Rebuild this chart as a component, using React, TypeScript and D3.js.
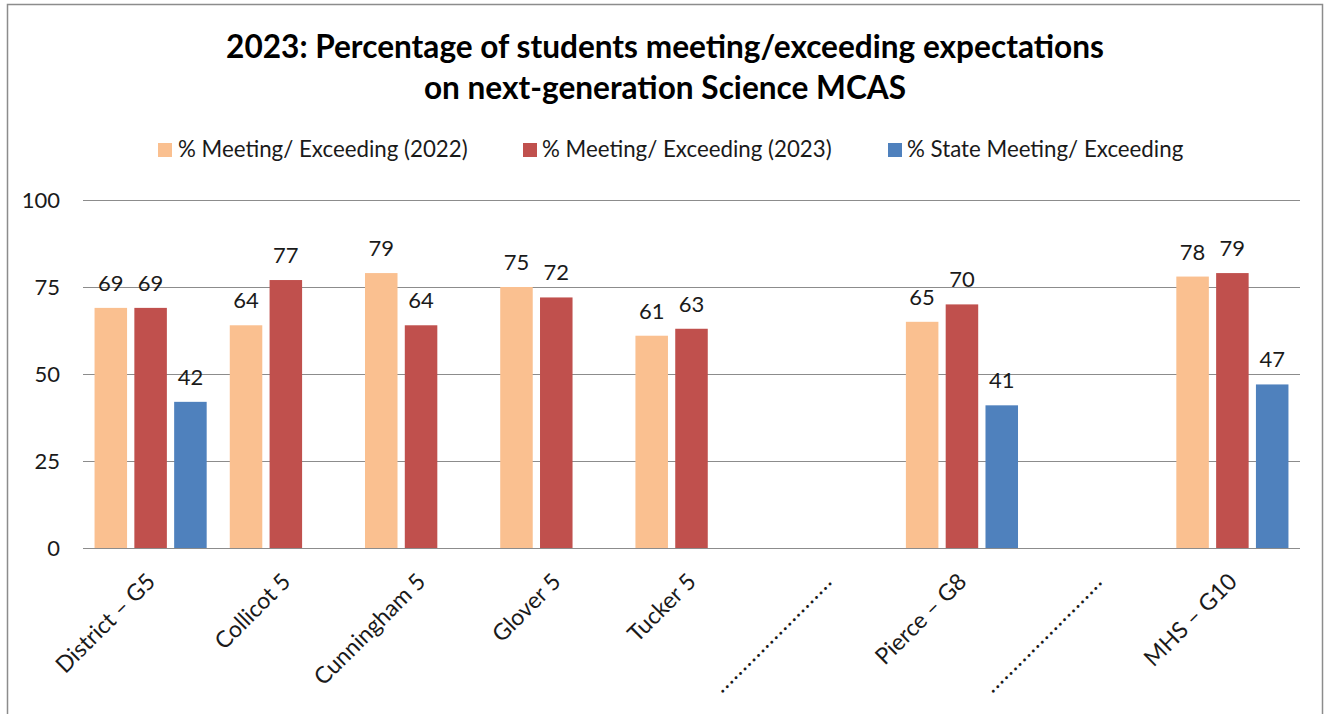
import React from "react";
import * as d3 from "d3";

const categories = [
  "District – G5",
  "Collicot 5",
  "Cunningham 5",
  "Glover 5",
  "Tucker 5",
  ".........................",
  "Pierce – G8",
  ".........................",
  "MHS – G10",
];
const series = [
  "% Meeting/ Exceeding (2022)",
  "% Meeting/ Exceeding (2023)",
  "% State Meeting/ Exceeding",
];
const values2022: (number | null)[] = [69, 64, 79, 75, 61, null, 65, null, 78];
const values2023: (number | null)[] = [69, 77, 64, 72, 63, null, 70, null, 79];
const valuesState: (number | null)[] = [42, null, null, null, null, null, 41, null, 47];
const yTicks = [0, 25, 50, 75, 100];
const titleLines = [
  "2023: Percentage of students meeting/exceeding expectations",
  "on next-generation Science MCAS",
];
const colors = ["#FAC090", "#C0504D", "#4F81BD"];

const W = 1328;
const H = 714;
const FONT = "Lato, 'Open Sans', sans-serif";

export default function App() {
  const seriesValues = [values2022, values2023, valuesState];
  const x = d3.scaleBand<number>().domain(categories.map((_, i) => i)).range([83, 1300]).padding(0);
  const xi = d3
    .scaleBand<number>()
    .domain([0, 1, 2])
    .range([0, x.bandwidth()])
    .paddingInner(0.183)
    .paddingOuter(0.29);
  const y = d3.scaleLinear().domain([0, 100]).range([548, 200]);

  const legendPos = [
    { sq: 158, tx: 178 },
    { sq: 523, tx: 542 },
    { sq: 888, tx: 907 },
  ];

  return (
    <svg
      width={W}
      height={H}
      style={{ position: "absolute", left: 0, top: 0, background: "#fff" }}
      fontFamily={FONT}
    >
      <rect x={0} y={0} width={W} height={H} fill="#fff" />
      <rect x={7.5} y={4.5} width={1315} height={740} fill="none" stroke="#8c8c8c" strokeWidth={1.5} />

      {titleLines.map((t, i) => (
        <text
          key={i}
          x={665}
          y={58 + i * 41}
          textAnchor="middle"
          fontSize={31.6}
          fontWeight="bold"
          fill="#000"
        >
          {t}
        </text>
      ))}

      {series.map((s, i) => (
        <g key={s}>
          <rect x={legendPos[i].sq} y={143} width={14} height={14} fill={colors[i]} />
          <text x={legendPos[i].tx} y={157} fontSize={22.3} fill="#1a1a1a">
            {s}
          </text>
        </g>
      ))}

      {yTicks.map((t) => (
        <g key={t}>
          <line x1={83} x2={1300} y1={Math.round(y(t)) + 0.5} y2={Math.round(y(t)) + 0.5} stroke="#8c8c8c" strokeWidth={1.2} />
          <text x={60} y={y(t)} dy="0.35em" textAnchor="end" fontSize={22} fill="#1a1a1a">
            {t}
          </text>
        </g>
      ))}

      {categories.map((c, ci) =>
        seriesValues.map((vals, si) => {
          const v = vals[ci];
          if (v == null) return null;
          const bx = (x(ci) as number) + (xi(si) as number);
          return (
            <g key={`${ci}-${si}`}>
              <rect x={bx} y={y(v)} width={xi.bandwidth()} height={y(0) - y(v)} fill={colors[si]} />
              <text x={bx + xi.bandwidth() / 2} y={y(v) - 17} textAnchor="middle" fontSize={22} fill="#1a1a1a">
                {v}
              </text>
            </g>
          );
        })
      )}

      {categories.map((c, ci) => {
        const cx = (x(ci) as number) + x.bandwidth() / 2;
        const ax = cx + 6;
        const ay = 583;
        const isDots = c.startsWith(".");
        return (
          <text
            key={ci}
            transform={`translate(${ax},${ay}) rotate(-45)`}
            textAnchor="end"
            fontSize={23}
            fill="#1a1a1a"
            {...(isDots ? { textLength: 157, lengthAdjust: "spacing" } : {})}
          >
            {c}
          </text>
        );
      })}
    </svg>
  );
}
